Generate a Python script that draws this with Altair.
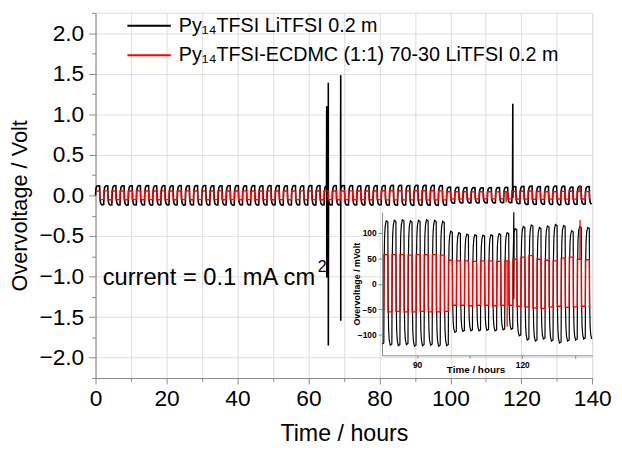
import altair as alt
import pandas as pd

# ---------------- values ----------------
PERIOD_H = 2.3          # one charge + discharge cycle, hours
BLACK_START_MV = 0

# black trace: extreme of each positive / negative half cycle (mV), one entry per cycle
black_peak_mv = [
    118, 120, 121, 120, 119, 121, 122, 120, 121, 120,
    121, 120, 122, 121, 120, 119, 121, 122, 120, 121,
    120, 121, 122, 120, 121, 120, 122, 121, 120, 121,
    122, 121, 120, 122, 121, 123, 124, 125, 123, 124,
    125, 124, 122,
    103, 100, 97, 96, 95, 96, 98, 100,
    108, 112, 115, 110, 113, 116, 114, 104, 112, 110,
]
black_trough_mv = [
    -116, -118, -117, -119, -118, -117, -119, -118, -117, -118,
    -119, -118, -117, -119, -118, -118, -119, -117, -118, -119,
    -118, -117, -119, -118, -117, -118, -119, -118, -117, -118,
    -119, -118, -117, -119, -118, -120, -121, -119, -122, -121,
    -120, -122, -121,
    -95, -93, -92, -92, -91, -92, -90, -89,
    -102, -110, -112, -108, -112, -116, -112, -110, -108, -108,
]
# red trace: plateau levels of each half cycle (mV)
red_high_mv = [
    55, 56, 55, 54, 55, 56, 55, 55, 56, 55,
    55, 56, 55, 54, 55, 56, 55, 55, 56, 55,
    55, 56, 55, 54, 55, 56, 55, 55, 56, 55,
    55, 56, 55, 54, 55, 57, 57, 57, 56, 57,
    57, 57, 56,
    46, 45, 45, 44, 45, 45, 44, 45,
    48, 52, 55, 48, 46, 45, 50, 52, 48, 47,
]
red_low_mv = [
    -52, -53, -52, -53, -52, -53, -52, -53, -52, -53,
    -52, -53, -52, -53, -52, -53, -52, -53, -52, -53,
    -52, -53, -52, -53, -52, -53, -52, -53, -52, -53,
    -52, -53, -52, -53, -52, -55, -54, -55, -55, -54,
    -55, -55, -54,
    -42, -42, -43, -42, -42, -43, -42, -42,
    -44, -45, -47, -48, -45, -44, -46, -45, -44, -48,
]
# short spikes: (time h, high mV, low mV)
black_spikes = [
    (65.15, 1100, -1010),
    (65.60, 1390, -1850),
    (69.10, 1480, -1545),
    (117.60, 1130, -30),
]
red_spikes = [(115.7, -84), (136.5, 125)]   # (time h, mV)

series_names = ["Py\u2081\u2084TFSI LiTFSI 0.2 m",
                "Py\u2081\u2084TFSI-ECDMC (1:1) 70-30 LiTFSI 0.2 m"]
series_colors = ["black", "red"]

x_ticks = [0, 10, 20, 30, 40, 50, 60, 70, 80, 90, 100, 110, 120, 130, 140]
y_major = [-2.0, -1.5, -1.0, -0.5, 0.0, 0.5, 1.0, 1.5, 2.0]
y_minor = [-2.25, -1.75, -1.25, -0.75, -0.25, 0.25, 0.75, 1.25, 1.75, 2.25]
inset_x_ticks = [90, 105, 120, 135]
inset_y_ticks = [-100, -50, 0, 50, 100]

annotation = ["current = 0.1 mA cm", "2"]

# rounded-square profile of one half cycle of the black trace
SHAPE_F = [0.0, 0.04, 0.10, 0.20, 0.35, 0.60, 1.0]
SHAPE_G = [0.0, 0.35, 0.70, 0.88, 0.96, 1.00, 0.99]

FONT = "Liberation Sans"


def build_black():
    half = PERIOD_H / 2
    pts = []
    prev = BLACK_START_MV
    for k in range(2 * len(black_peak_mv)):
        c = k // 2
        target = black_peak_mv[c] if k % 2 == 0 else black_trough_mv[c]
        t0 = k * half
        for j, (f, g) in enumerate(zip(SHAPE_F, SHAPE_G)):
            if j == 0 and k > 0:
                continue
            pts.append((t0 + f * half, prev + (target - prev) * g))
        prev = pts[-1][1]
    for ts, hi, lo in black_spikes:
        pts += [(ts, hi), (ts + 0.01, lo)]
    pts.sort(key=lambda p: p[0])
    pts = [p for p in pts if p[0] <= 140]
    return pd.DataFrame({"t": [p[0] for p in pts], "mv": [p[1] for p in pts],
                         "i": list(range(len(pts))), "series": series_names[0]})


def build_red():
    half = PERIOD_H / 2
    levels = []
    for hi, lo in zip(red_high_mv, red_low_mv):
        levels += [hi, lo]
    pts = []
    for k, lvl in enumerate(levels):
        t0 = k * half
        pts.append((t0 + (0.03 if k else 0.0), lvl))
        pts.append((t0 + half, lvl))
    for ts, v in red_spikes:
        lvl = levels[int(ts // half)]
        pts += [(ts, lvl), (ts + 0.005, v), (ts + 0.01, lvl)]
    pts.sort(key=lambda p: p[0])
    pts = [p for p in pts if p[0] <= 140]
    return pd.DataFrame({"t": [p[0] for p in pts], "mv": [p[1] for p in pts],
                         "i": list(range(len(pts))), "series": series_names[1]})


black_df = build_black()
red_df = build_red()

W, H = 503.3, 370

# ---------------- main panel ----------------
X_MAJOR = "datum.value % 20 === 0"

x_axis_main = alt.Axis(
    values=x_ticks, title="Time / hours", orient="bottom",
    labelExpr=f"{X_MAJOR} ? datum.label : ''",
    tickSize={"condition": {"test": X_MAJOR, "value": 6}, "value": 3.5},
    labelFontSize=23, titleFontSize=23.5, titleFontWeight="normal",
    labelPadding=4, labelOverlap=False, labelFlush=False,
    titleY=63, titleBaseline="alphabetic",
)
y_axis_major = alt.Axis(
    values=y_major, title="Overvoltage / Volt", orient="left", format=".1f",
    tickSize=7, labelFontSize=23, titleFontSize=22, titleFontWeight="normal",
    labelPadding=5, labelOverlap=False, labelFlush=False,
    titleX=-76.5, titleY=195, titleAngle=270, titleBaseline="middle", titleAlign="center",
)
y_axis_minor = alt.Axis(
    values=y_minor, orient="left", tickSize=4, labels=False, domain=False, title=None,
)

x_scale = alt.Scale(domain=[0, 140], nice=False, zero=False)
y_scale = alt.Scale(domain=[-2.25, 2.25], nice=False, zero=False)

legend = alt.Legend(
    title=None, orient="none", legendX=31.3, legendY=-2,
    symbolType="stroke", symbolSize=1936, symbolStrokeWidth=2,
    labelFontSize=20, labelFont=FONT, labelOffset=7, labelLimit=600,
    clipHeight=30, rowPadding=0, padding=0, labelColor="black",
)
color = alt.Color("series:N", scale=alt.Scale(domain=series_names, range=series_colors), legend=legend)

main_black = alt.Chart(black_df).transform_calculate(v="datum.mv / 1000").mark_line(
    strokeWidth=1.6).encode(
    x=alt.X("t:Q", scale=x_scale, axis=x_axis_main),
    y=alt.Y("v:Q", scale=y_scale, axis=y_axis_major),
    color=color, order="i:Q")
main_red = alt.Chart(red_df).transform_calculate(v="datum.mv / 1000").mark_line(
    strokeWidth=1.4).encode(
    x=alt.X("t:Q", scale=x_scale, axis=x_axis_main),
    y=alt.Y("v:Q", scale=y_scale, axis=None),
    color=color, order="i:Q")

ann_main = alt.Chart(pd.DataFrame({"t": [2.0], "v": [-1.10], "label": [annotation[0]]})).mark_text(
    align="left", baseline="alphabetic", fontSize=24, font=FONT, color="black"
).encode(x=alt.X("t:Q", axis=x_axis_main), y=alt.Y("v:Q", axis=y_axis_minor), text="label:N")
ann_sup = alt.Chart(pd.DataFrame({"t": [62.6], "v": [-0.94], "label": [annotation[1]]})).mark_text(
    align="left", baseline="alphabetic", fontSize=16, font=FONT, color="black"
).encode(x=alt.X("t:Q", axis=x_axis_main), y=alt.Y("v:Q", axis=None), text="label:N")

main = alt.layer(main_black, main_red, ann_main, ann_sup).resolve_axis(y="independent")

# ---------------- inset ----------------
x_inset = alt.X("t:Q", scale=alt.Scale(domain=[80, 140], range=[290.3, 503.3], clamp=True, nice=False, zero=False),
                axis=alt.Axis(values=inset_x_ticks, orient="bottom", offset=-23, title="Time / hours",
                              labelExpr="datum.value % 30 === 0 ? datum.label : ''",
                              tickSize=3, labelFontSize=8.5, labelFontWeight="bold", labelPadding=2,
                              titleFontSize=10, titleFontWeight="bold", titleX=385, titleY=14,
                              titleBaseline="middle", labelOverlap=False, labelFlush=False))
y_inset = alt.Y("mv:Q", scale=alt.Scale(domain=[-140, 140], range=[347, 202], clamp=True, nice=False, zero=False),
                axis=alt.Axis(values=inset_y_ticks, orient="left", offset=-290.3, title="Overvoltage / mVolt",
                              tickSize=4, labelFontSize=8.5, labelFontWeight="bold", labelPadding=2,
                              titleFontSize=9, titleFontWeight="bold", titleX=-26, titleY=274.5,
                              titleAngle=270, titleBaseline="middle", titleAlign="center",
                              labelOverlap=False, labelFlush=False))

inset_black = alt.Chart(black_df).transform_filter("datum.t >= 79.9").mark_line(
    color="black", strokeWidth=1.2).encode(x=x_inset, y=y_inset, order="i:Q")
inset_red = alt.Chart(red_df).transform_filter("datum.t >= 79.9").mark_line(
    color="red", strokeWidth=1.3).encode(x=x_inset, y=y_inset, order="i:Q")

inset = alt.layer(inset_black, inset_red)

chart = alt.layer(main, inset).resolve_scale(x="independent", y="independent").properties(
    width=W, height=H,
    autosize=alt.AutoSizeParams(type="none"),
    padding={"left": 88.7, "top": 2, "right": 22, "bottom": 69},
).configure_view(stroke=None).configure_axis(
    grid=False, domainColor="black", tickColor="black", labelColor="black", titleColor="black",
    labelFont=FONT, titleFont=FONT, domainWidth=1, tickWidth=1,
).configure(font=FONT)

chart.save("out.html", embed_options={"renderer": "svg", "actions": False})
